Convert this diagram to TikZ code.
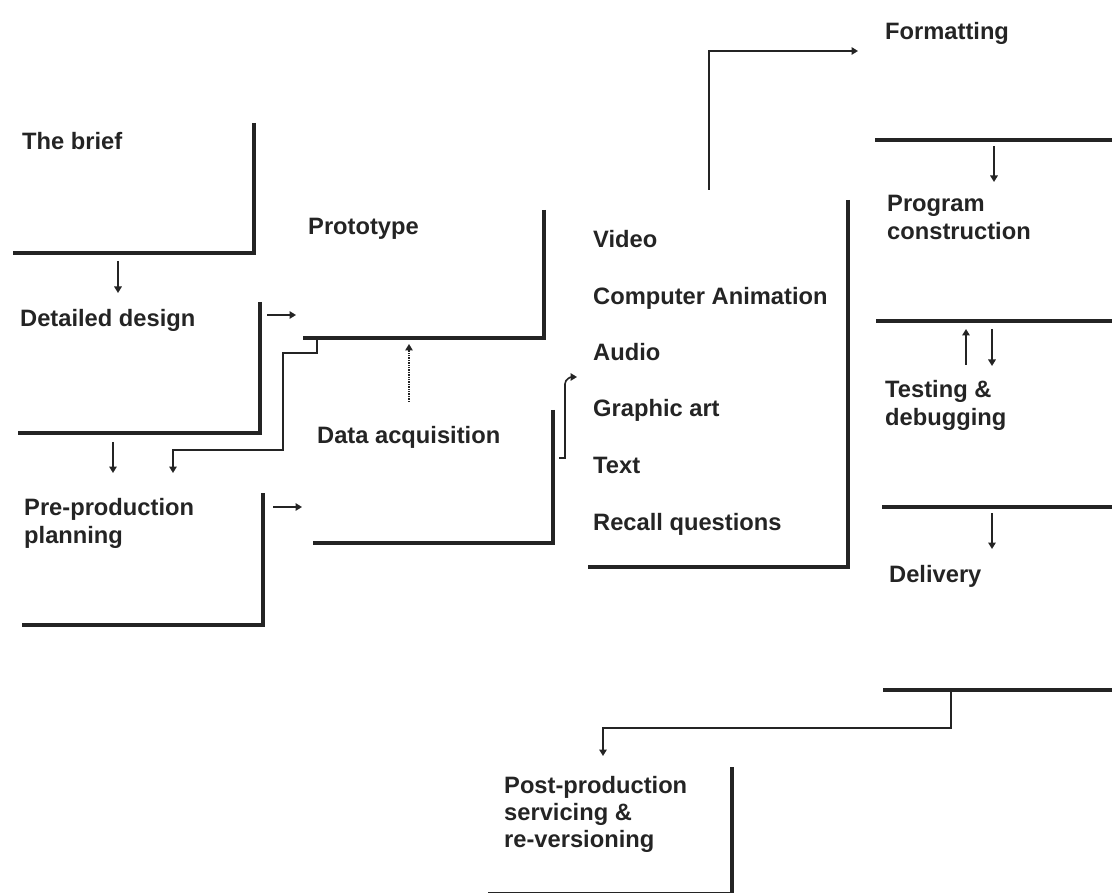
\documentclass[tikz,border=0pt]{standalone}
\usepackage{fontspec}
\setmainfont{Liberation Sans}
\usetikzlibrary{arrows.meta}
\definecolor{ink}{HTML}{242424}
% stacked lines whose reference point is the first baseline
\newcommand{\twolines}[2]{\vtop{\baselineskip=28pt\hbox{#1}\hbox{#2}}}
\newcommand{\threelines}[3]{\vtop{\baselineskip=27pt\hbox{#1}\hbox{#2}\hbox{#3}}}
\begin{document}
\begin{tikzpicture}[x=1pt,y=-1pt,
  lbl/.style={anchor=base west,inner sep=0pt,text=ink,
    font=\fontsize{23.7}{28}\selectfont\bfseries},
  wall/.style={draw=ink,line width=4pt},
  link/.style={draw=ink,line width=1.6pt,-{Triangle[length=6.5pt,width=7.5pt]}},
  dots/.style={draw=ink,line width=1.4pt,densely dotted,-{Triangle[length=6.5pt,width=7.5pt]}}]
\useasboundingbox (0,0) rectangle (1112,893);

% ---- stage labels ----
\node[lbl] (brief)  at (22,150)  {The brief};
\node[lbl] (detail) at (20,327)  {Detailed design};
\node[lbl] (pre)    at (24,515)  {\twolines{Pre-production}{planning}};
\node[lbl] (proto)  at (308,235) {Prototype};
\node[lbl] (data)   at (317,443) {Data acquisition};
\node[lbl] (video)  at (593,248) {Video};
\node[lbl] (anim)   at (593,305) {Computer Animation};
\node[lbl] (audio)  at (593,361) {Audio};
\node[lbl] (art)    at (593,417) {Graphic art};
\node[lbl] (text)   at (593,473) {Text};
\node[lbl] (recall) at (593,530) {Recall questions};
\node[lbl] (fmt)    at (885,40)  {Formatting};
\node[lbl] (prog)   at (887,212) {\twolines{Program}{construction}};
\node[lbl] (test)   at (885,398) {\twolines{Testing \&}{debugging}};
\node[lbl] (deliv)  at (889,582) {Delivery};
\node[lbl] (post)   at (504,793) {\threelines{Post-production}{servicing \&}{re-versioning}};

% ---- stage frames (right edge and floor of each block) ----
\draw[wall] (254,123) -- (254,253) -- (13,253);
\draw[wall] (260,302) -- (260,433) -- (18,433);
\draw[wall] (263,493) -- (263,625) -- (22,625);
\draw[wall] (544,210) -- (544,338) -- (303,338);
\draw[wall] (553,410) -- (553,543) -- (313,543);
\draw[wall] (848,200) -- (848,567) -- (588,567);
\draw[wall] (875,140) -- (1112,140);
\draw[wall] (876,321) -- (1112,321);
\draw[wall] (882,507) -- (1112,507);
\draw[wall] (883,690) -- (1112,690);
\draw[wall] (732,767) -- (732,895);
\draw[wall] (488,894) -- (732,894);

% ---- anchor points for the connectors ----
\coordinate (briefout) at (118,261);
\coordinate (detailin) at (118,293);
\coordinate (detailout) at (267,315);
\coordinate (protoin) at (296,315);
\coordinate (detaildown) at (113,442);
\coordinate (prein) at (113,473);
\coordinate (protofloor) at (317,340);
\coordinate (prein2) at (173,473);
\coordinate (preout) at (273,507);
\coordinate (datain) at (302,507);
\coordinate (dataup) at (409,402);
\coordinate (protobelow) at (409,344);
\coordinate (dataout) at (559,458);
\coordinate (mediain) at (577,377);
\coordinate (mediaout) at (709,190);
\coordinate (fmtin) at (858,51);
\coordinate (fmtout) at (994,146);
\coordinate (progin) at (994,182);
\coordinate (testup0) at (966,365);
\coordinate (testup1) at (966,329);
\coordinate (testdn0) at (992,329);
\coordinate (testdn1) at (992,366);
\coordinate (testout) at (992,513);
\coordinate (delivin) at (992,549);
\coordinate (delivout) at (951,692);
\coordinate (postin) at (603,756);

% ---- connectors ----
\draw[link] (briefout) -- (detailin);
\draw[link] (detailout) -- (protoin);
\draw[link] (detaildown) -- (prein);
\draw[link] (protofloor) -- (317,353) -- (283,353) -- (283,450) -- (173,450) -- (prein2);
\draw[link] (preout) -- (datain);
\draw[dots] (dataup) -- (protobelow);
\draw[link] (dataout) -- (565,458) -- (565,384) to[out=90,in=180] (mediain);
\draw[link] (mediaout) -- (709,51) -- (fmtin);
\draw[link] (fmtout) -- (progin);
\draw[link] (testup0) -- (testup1);
\draw[link] (testdn0) -- (testdn1);
\draw[link] (testout) -- (delivin);
\draw[link] (delivout) -- (951,728) -- (603,728) -- (postin);
\end{tikzpicture}
\end{document}
